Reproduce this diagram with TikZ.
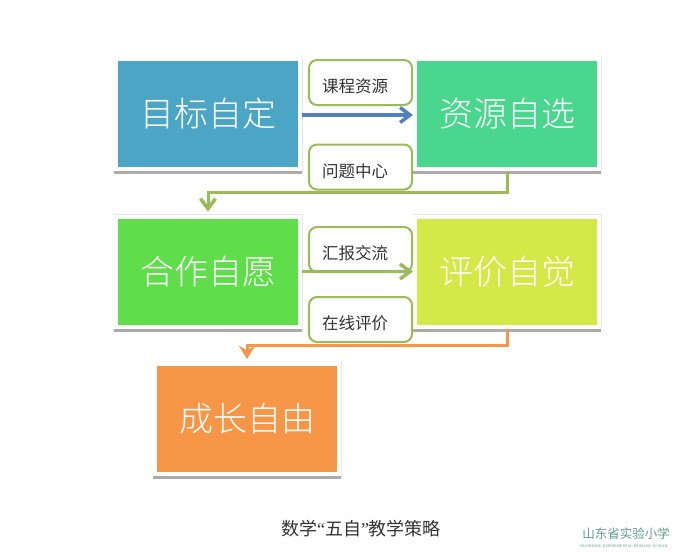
\documentclass[tikz,border=0pt]{standalone}
\usepackage{fontspec}
\setmainfont{Liberation Serif}
\newfontfamily\cjk{Noto Sans CJK SC}
\newfontfamily\cjklight{Noto Sans CJK SC Light}
\usetikzlibrary{arrows.meta}
\definecolor{cgoal}{HTML}{4BA6C5}
\definecolor{cres}{HTML}{4AD68F}
\definecolor{ccoop}{HTML}{60DD4A}
\definecolor{ceval}{HTML}{D3E947}
\definecolor{cgrow}{HTML}{F79646}
\definecolor{cline}{HTML}{9BBB59}
\definecolor{cblue}{HTML}{4F81BD}
\definecolor{cshade}{HTML}{ABABAB}
\definecolor{cedge}{HTML}{E6E6E6}
\definecolor{clogo}{HTML}{5E9E86}
\newcommand{\tagtext}[1]{\raisebox{-10pt}[0pt][0pt]{#1\hspace{11pt}}}
\tikzset{
  panel/.style={draw=white,line width=4pt,minimum width=184pt,minimum height=110pt,inner sep=0pt,
    text=white,font=\cjklight\fontsize{34}{34}\selectfont,
    preaction={draw=cedge,line width=5pt},
    preaction={draw=cshade,line width=4pt,transform canvas={yshift=-3pt}}},
  tag/.style={draw=cline,fill=white,line width=2pt,rounded corners=8pt,minimum width=103pt,minimum height=45pt,
    inner sep=0pt,text=black!80,font=\cjk\fontsize{16.5}{17}\selectfont},
  barb/.style={-{Straight Barb[length=10pt,width=15pt,line width=3.5pt]}},
  flow/.style={line width=3.5pt,barb},
  elbow/.style={line width=3pt,shorten >=3pt}
}
\begin{document}
\begin{tikzpicture}[x=1pt,y=-1pt]
\useasboundingbox (0,0) rectangle (673,552);
\node[panel,fill=cgoal] (goal) at (208,114) {目标自定};
\node[panel,fill=cres] (res) at (507,114) {资源自选};
\node[panel,fill=ccoop] (coop) at (208,271.5) {合作自愿};
\node[panel,fill=ceval] (eval) at (507,271.5) {评价自觉};
\node[panel,fill=cgrow] (grow) at (247,419) {成长自由};
\node[tag] (t1) at (360.5,82.5) {\tagtext{课程资源}};
\node[tag] (t2) at (360.5,167) {\tagtext{问题中心}};
\node[tag] (t3) at (360.5,249.5) {\tagtext{汇报交流}};
\node[tag] (t4) at (360.5,319.5) {\tagtext{在线评价}};
\coordinate (turnA) at (357,192);
\coordinate (turnB) at (377,345);
\draw[flow,draw=cblue] ([yshift=-1pt]goal.east) -- ([yshift=-1pt]res.west);
\draw[flow,draw=cline] (coop.east) -- (eval.west);
\draw[elbow,draw=cline,barb] (res.south) |- (turnA) -| (coop.north);
\draw[elbow,draw=cgrow,-{Stealth[length=13pt,width=16pt]}] (eval.south) |- (turnB) -| (grow.north);
\node[font=\cjk\fontsize{18}{18}\selectfont,text=black!80] (cap) at (361,529) {数学{\rmfamily “}五自{\rmfamily ”}教学策略};
\node[font=\cjk\fontsize{12.5}{13}\selectfont,text=clogo] (logo) at (626,534) {山东省实验小学};
\node[font=\fontsize{3.95}{4}\selectfont,text=clogo] (logoen) at (624,546) {SHANDONG EXPERIMENTAL PRIMARY SCHOOL};
\end{tikzpicture}
\end{document}
